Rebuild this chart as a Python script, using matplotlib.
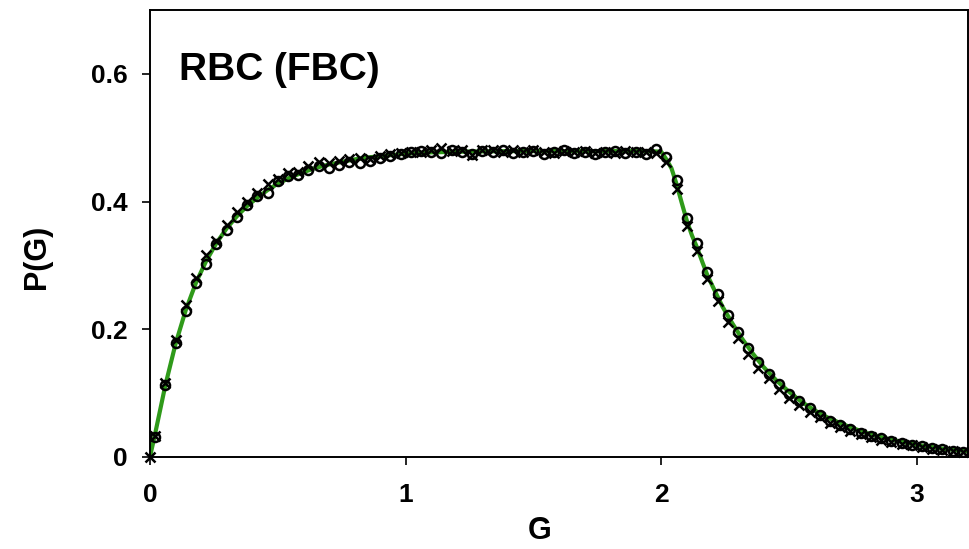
import matplotlib
matplotlib.use("Agg")
import matplotlib.pyplot as plt

plt.rcParams["font.family"] = ["Liberation Sans", "DejaVu Sans"]
plt.rcParams["font.weight"] = "bold"

# ── data ────────────────────────────────────────────────────────
g_circle = [0.02, 0.06, 0.10, 0.14, 0.18, 0.22, 0.26, 0.30, 0.34, 0.38,
            0.42, 0.46, 0.50, 0.54, 0.58, 0.62, 0.66, 0.70, 0.74, 0.78,
            0.82, 0.86, 0.90, 0.94, 0.98, 1.02, 1.06, 1.10, 1.14, 1.18,
            1.22, 1.26, 1.30, 1.34, 1.38, 1.42, 1.46, 1.50, 1.54, 1.58,
            1.62, 1.66, 1.70, 1.74, 1.78, 1.82, 1.86, 1.90, 1.94, 1.98,
            2.02, 2.06, 2.10, 2.14, 2.18, 2.22, 2.26, 2.30, 2.34, 2.38,
            2.42, 2.46, 2.50, 2.54, 2.58, 2.62, 2.66, 2.70, 2.74, 2.78,
            2.82, 2.86, 2.90, 2.94, 2.98, 3.02, 3.06, 3.10, 3.14, 3.18]
p_circle = [0.031, 0.112, 0.178, 0.228, 0.272, 0.303, 0.333, 0.355, 0.376, 0.394,
            0.408, 0.413, 0.432, 0.440, 0.441, 0.450, 0.455, 0.452, 0.457, 0.462,
            0.460, 0.463, 0.468, 0.471, 0.474, 0.477, 0.479, 0.478, 0.476, 0.480,
            0.477, 0.475, 0.479, 0.477, 0.480, 0.476, 0.478, 0.479, 0.474, 0.477,
            0.480, 0.476, 0.478, 0.475, 0.477, 0.479, 0.476, 0.478, 0.475, 0.482,
            0.470, 0.433, 0.375, 0.335, 0.290, 0.256, 0.222, 0.196, 0.170, 0.148,
            0.130, 0.114, 0.099, 0.087, 0.076, 0.066, 0.057, 0.050, 0.044, 0.038,
            0.033, 0.029, 0.025, 0.022, 0.019, 0.017, 0.014, 0.012, 0.010, 0.008]

g_cross = [0.00] + g_circle
p_cross = [0.000,
           0.033, 0.116, 0.183, 0.238, 0.280, 0.316, 0.338, 0.363, 0.383, 0.400,
           0.414, 0.428, 0.436, 0.444, 0.447, 0.455, 0.462, 0.460, 0.463, 0.466,
           0.469, 0.467, 0.472, 0.474, 0.476, 0.478, 0.477, 0.480, 0.484, 0.479,
           0.481, 0.473, 0.480, 0.481, 0.478, 0.480, 0.477, 0.480, 0.478, 0.476,
           0.479, 0.477, 0.479, 0.476, 0.478, 0.476, 0.479, 0.477, 0.478, 0.476,
           0.462, 0.420, 0.362, 0.322, 0.278, 0.244, 0.212, 0.186, 0.161, 0.140,
           0.123, 0.107, 0.093, 0.082, 0.071, 0.062, 0.054, 0.047, 0.041, 0.036,
           0.031, 0.027, 0.024, 0.021, 0.018, 0.016, 0.013, 0.011, 0.009, 0.008]

g_theory = [0.00, 0.02, 0.06, 0.10, 0.14, 0.18, 0.22, 0.26, 0.30, 0.34,
            0.38, 0.42, 0.46, 0.50, 0.55, 0.60, 0.65, 0.70, 0.75, 0.80,
            0.85, 0.90, 0.95, 1.00, 1.10, 1.20, 1.40, 1.60, 1.80, 1.95,
            2.00, 2.02, 2.04, 2.06, 2.08, 2.10, 2.12, 2.14, 2.16, 2.18,
            2.20, 2.24, 2.28, 2.32, 2.36, 2.40, 2.45, 2.50, 2.55, 2.60,
            2.65, 2.70, 2.75, 2.80, 2.85, 2.90, 2.95, 3.00, 3.05, 3.10,
            3.15, 3.20]
p_theory = [0.000, 0.036, 0.112, 0.177, 0.230, 0.273, 0.307, 0.335, 0.358, 0.377,
            0.393, 0.406, 0.418, 0.428, 0.438, 0.446, 0.453, 0.458, 0.462, 0.466,
            0.469, 0.471, 0.473, 0.475, 0.477, 0.478, 0.479, 0.479, 0.479, 0.479,
            0.478, 0.466, 0.452, 0.427, 0.398, 0.370, 0.347, 0.328, 0.306, 0.285,
            0.268, 0.235, 0.208, 0.183, 0.161, 0.141, 0.120, 0.102, 0.086, 0.073,
            0.062, 0.053, 0.045, 0.038, 0.032, 0.027, 0.023, 0.019, 0.016, 0.013,
            0.011, 0.009]

x_ticks = [0, 1, 2, 3]
y_ticks = [0, 0.2, 0.4, 0.6]
y_tick_labels = ["0", "0.2", "0.4", "0.6"]

GREEN = "#2f9a1a"

fig = plt.figure(figsize=(9.7, 5.49), dpi=100)
ax = fig.add_axes([0.1546, 0.1676, 0.8434, 0.8142])

ax.plot(g_theory, p_theory, color=GREEN, lw=3, zorder=2)
ax.plot(g_circle, p_circle, ls="none", marker="o", ms=6.5, mfc="none",
        mec="black", mew=1.8, zorder=3)
ax.plot(g_cross, p_cross, ls="none", marker="x", ms=7,
        mec="black", mew=1.8, zorder=3, clip_on=False)

ax.set_xlim(0, 3.2)
ax.set_ylim(0, 0.7)
ax.set_xticks(x_ticks)
ax.set_yticks(y_ticks)
ax.set_yticklabels(y_tick_labels)

for s in ax.spines.values():
    s.set_linewidth(1.4)

ax.tick_params(axis="both", direction="out", length=6, width=1.2,
               labelsize=19)
ax.tick_params(axis="x", pad=13)
ax.tick_params(axis="y", pad=10)

ax.set_xlabel("G", fontsize=22, fontweight="bold")
ax.xaxis.set_label_coords(0.476, -0.132)
ax.set_ylabel("P(G)", fontsize=22, fontweight="bold")
ax.yaxis.set_label_coords(-0.12, 0.447)

ax.text(0.114, 0.59, "RBC (FBC)", fontsize=28, fontweight="bold",
        ha="left", va="baseline")

fig.savefig("out.png", dpi=100)
